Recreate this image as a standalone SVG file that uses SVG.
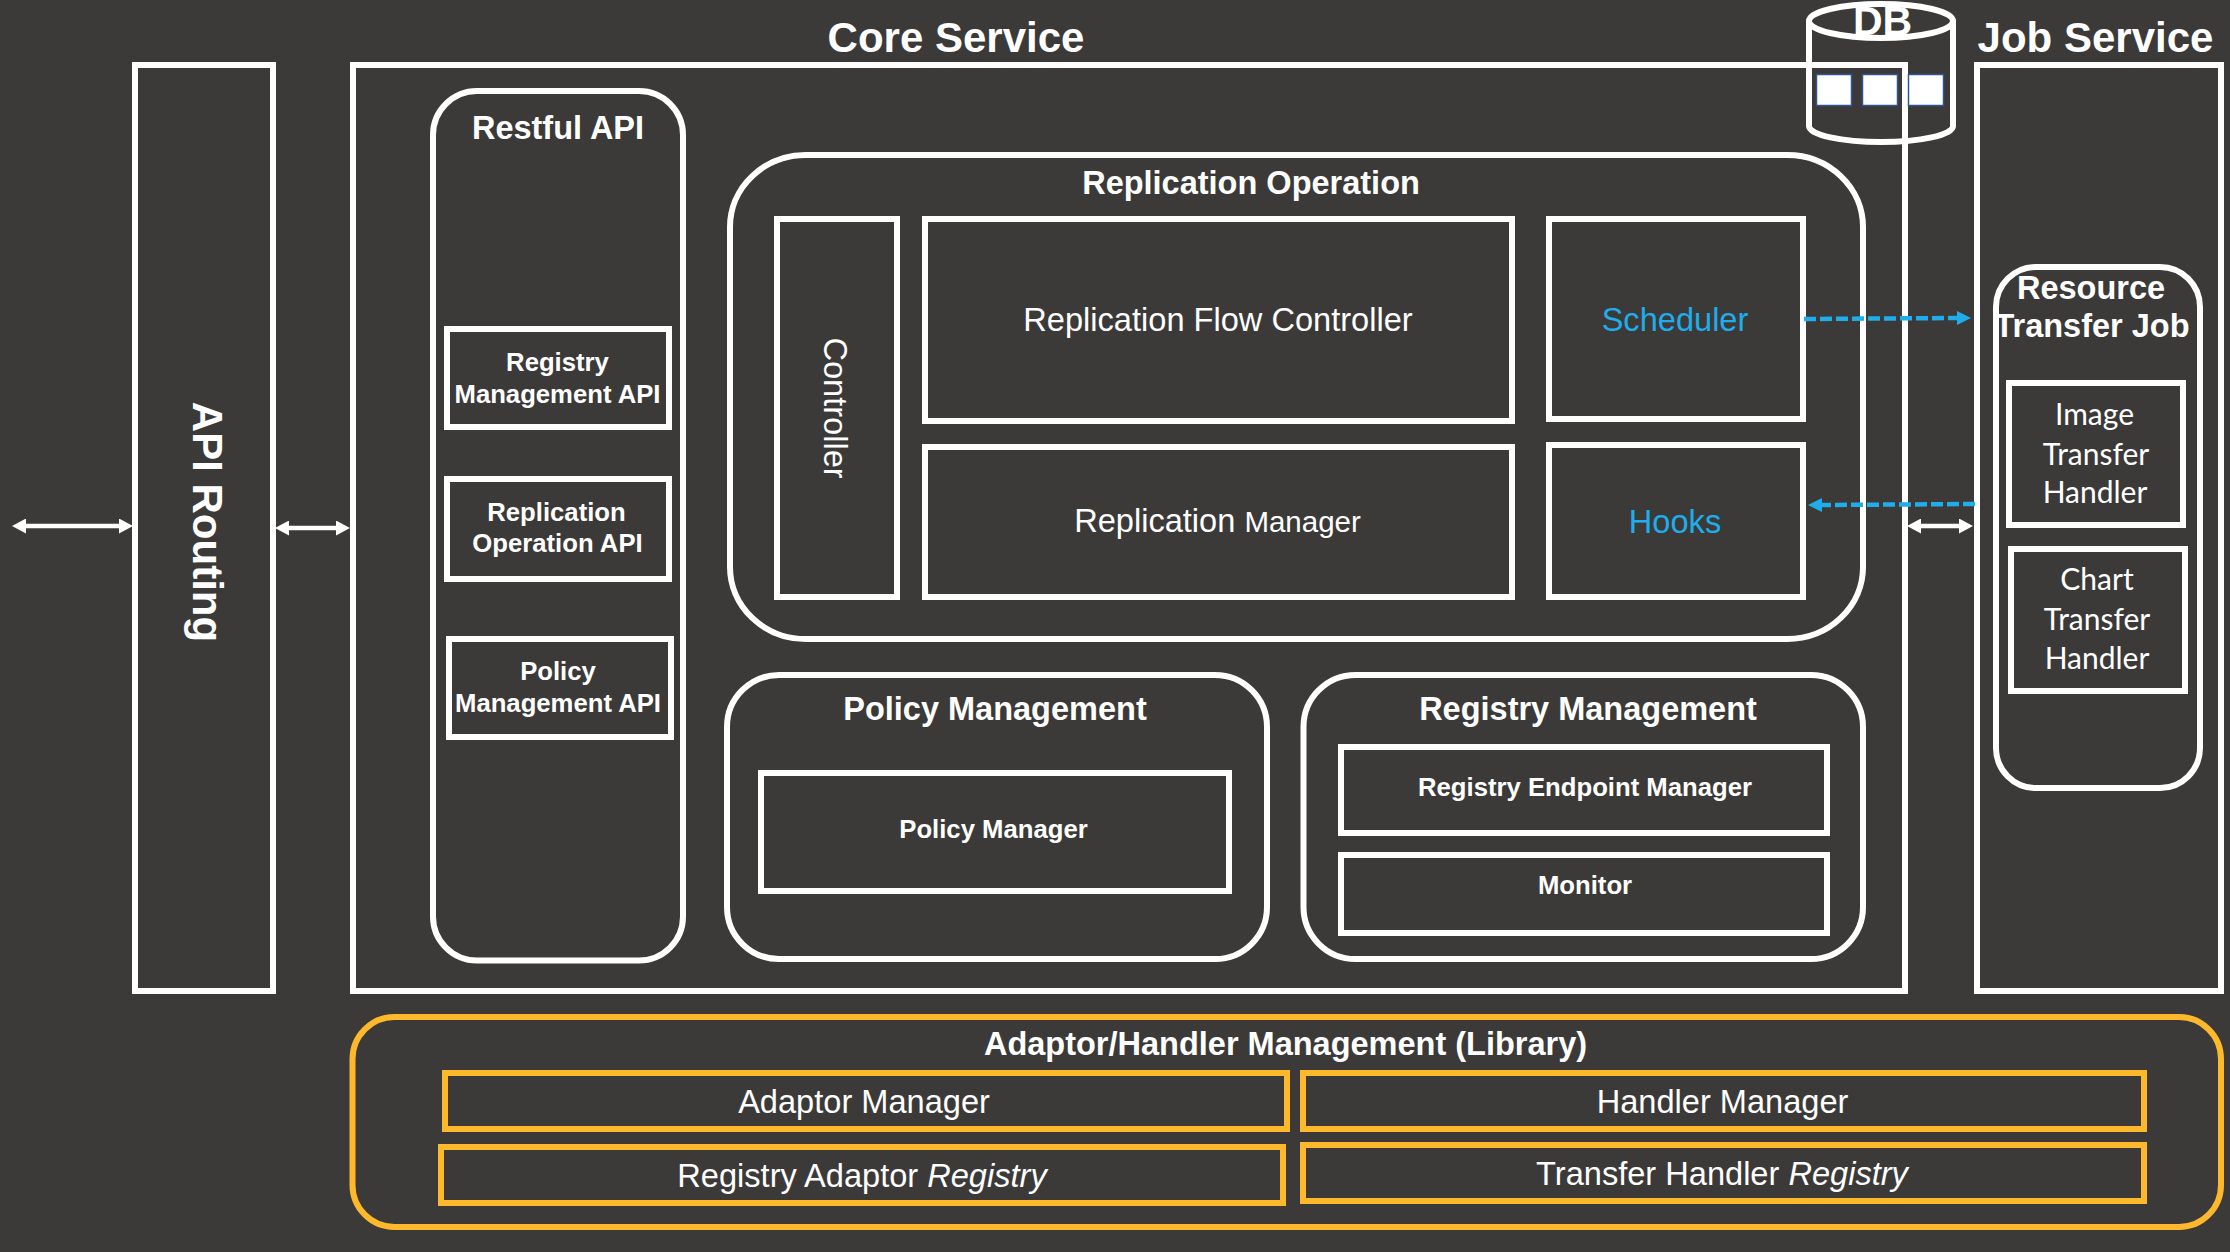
<svg xmlns="http://www.w3.org/2000/svg" width="2230" height="1252" viewBox="0 0 2230 1252">
<style>
.b{fill:none;stroke:#fff;stroke-width:6}
.g{fill:none;stroke:#fdb92b;stroke-width:6}
text{font-family:"Liberation Sans",Arial,sans-serif;fill:#fff;text-anchor:middle}
.t42{font-size:42px;font-weight:700}
.t32b{font-size:32.5px;font-weight:700}
.t26b{font-size:25.7px;font-weight:700}
.t32{font-size:32.6px}
.blue{fill:#1fadeb}
.cal{font-family:Lato,"Open Sans",sans-serif;font-size:30px}
.sq{fill:#fff;stroke:#2f5597;stroke-width:1.5}
.wa{stroke:#fff;stroke-width:4.5;fill:none;marker-start:url(#wh);marker-end:url(#wh)}
.ba{stroke:#1fadeb;stroke-width:4.5;stroke-dasharray:12 4;fill:none;marker-end:url(#bh)}
</style>
<defs>
<marker id="wh" markerUnits="userSpaceOnUse" markerWidth="14" markerHeight="15" refX="0" refY="7.5" orient="auto-start-reverse"><path d="M0 0L14 7.5L0 15Z" fill="#fff"/></marker>
<marker id="bh" markerUnits="userSpaceOnUse" markerWidth="14" markerHeight="14" refX="0" refY="7" orient="auto"><path d="M0 0L14 7L0 14Z" fill="#1fadeb"/></marker>
</defs>
<rect width="2230" height="1252" fill="#3b3a38"/>

<g id="api-routing">
<rect class="b" x="135" y="65" width="138" height="926"/>
<text class="t42" transform="translate(192.500 522) rotate(90)">API Routing</text>
</g>

<g id="core-service">
<rect class="b" x="353" y="65" width="1552" height="926"/>
<text class="t42" x="956" y="51.500">Core Service</text>
</g>

<g id="restful-api">
<rect class="b" x="433" y="91" width="250" height="869.500" rx="44" ry="44"/>
<text class="t32b" x="558" y="139">Restful API</text>
</g>
<g id="registry-management-api">
<rect class="b" x="447" y="329" width="222" height="98"/>
<text class="t26b" x="557.500" y="371">Registry</text>
<text class="t26b" x="557.500" y="402.500">Management API</text>
</g>
<g id="replication-operation-api">
<rect class="b" x="447" y="479" width="222" height="100"/>
<text class="t26b" x="556.500" y="520.500">Replication</text>
<text class="t26b" x="557.500" y="552">Operation API</text>
</g>
<g id="policy-management-api">
<rect class="b" x="449" y="639" width="222" height="98"/>
<text class="t26b" x="558" y="680">Policy</text>
<text class="t26b" x="558" y="711.500">Management API</text>
</g>

<g id="replication-operation">
<rect class="b" x="730" y="155" width="1133" height="484" rx="76" ry="72"/>
<text class="t32b" x="1251" y="194">Replication Operation</text>
</g>
<g id="controller">
<rect class="b" x="777" y="219" width="120" height="378"/>
<text class="t32" transform="translate(823.500 408) rotate(90)">Controller</text>
</g>
<g id="replication-flow-controller">
<rect class="b" x="925" y="219" width="587" height="202"/>
<text class="t32" x="1218" y="331">Replication Flow Controller</text>
</g>
<g id="replication-manager">
<rect class="b" x="925" y="447" width="587" height="150"/>
<text class="t32" x="1217.500" y="532">Replication <tspan font-size="29.500">Manager</tspan></text>
</g>
<g id="scheduler">
<rect class="b" x="1549" y="219" width="254" height="200"/>
<text class="t32 blue" x="1675" y="330.500">Scheduler</text>
</g>
<g id="hooks">
<rect class="b" x="1549" y="445" width="254" height="152"/>
<text class="t32 blue" x="1675" y="532.500">Hooks</text>
</g>

<g id="policy-management">
<rect class="b" x="727" y="675" width="540" height="284" rx="52" ry="52"/>
<text class="t32b" x="995" y="719.500">Policy Management</text>
</g>
<g id="policy-manager">
<rect class="b" x="761" y="773" width="468" height="118"/>
<text class="t26b" x="993.500" y="838">Policy Manager</text>
</g>
<g id="registry-management">
<rect class="b" x="1303.500" y="675" width="559.500" height="284" rx="52" ry="52"/>
<text class="t32b" x="1588" y="719.500">Registry Management</text>
</g>
<g id="registry-endpoint-manager">
<rect class="b" x="1341" y="747" width="486" height="86"/>
<text class="t26b" x="1585" y="796">Registry Endpoint Manager</text>
</g>
<g id="monitor">
<rect class="b" x="1341" y="855" width="486" height="78"/>
<text class="t26b" x="1585" y="894">Monitor</text>
</g>

<g id="job-service">
<rect class="b" x="1977" y="65" width="244" height="926"/>
<text class="t42" x="2095.500" y="52">Job Service</text>
</g>
<g id="resource-transfer-job">
<rect class="b" x="1996" y="267" width="204" height="521" rx="40" ry="40"/>
<text class="t32b" x="2091" y="298.500">Resource</text>
<text class="t32b" x="2092" y="336.500">Transfer Job</text>
</g>
<g id="image-transfer-handler">
<rect class="b" x="2009" y="383" width="174" height="142"/>
<text class="cal" x="2094.500" y="425">Image</text>
<text class="cal" x="2096" y="465">Transfer</text>
<text class="cal" x="2095" y="503">Handler</text>
</g>
<g id="chart-transfer-handler">
<rect class="b" x="2011" y="549" width="174" height="142"/>
<text class="cal" x="2097" y="590">Chart</text>
<text class="cal" x="2097" y="630">Transfer</text>
<text class="cal" x="2097" y="669">Handler</text>
</g>

<g id="db">
<ellipse class="b" cx="1881" cy="21" rx="72" ry="17"/>
<path class="b" d="M1809 21V126C1809 135 1842 142 1881 142S1953 135 1953 126V21"/>
<rect class="sq" x="1816.500" y="74.500" width="35" height="31"/>
<rect class="sq" x="1862.500" y="74.500" width="35" height="31"/>
<rect class="sq" x="1908.500" y="74.500" width="35" height="31"/>
<text x="1882.500" y="35" font-size="41" font-weight="700">DB</text>
</g>

<g id="adaptor-handler-management">
<rect class="g" x="352.500" y="1017" width="1868.500" height="210" rx="42" ry="42"/>
<text class="t32b" x="1285.500" y="1055">Adaptor/Handler Management (Library)</text>
</g>
<g id="adaptor-manager">
<rect class="g" x="445" y="1073" width="842" height="56"/>
<text class="t32" x="864" y="1113">Adaptor Manager</text>
</g>
<g id="registry-adaptor-registry">
<rect class="g" x="441" y="1147" width="842" height="56"/>
<text class="t32" x="862" y="1187">Registry Adaptor <tspan font-style="italic">Registry</tspan></text>
</g>
<g id="handler-manager">
<rect class="g" x="1303" y="1073" width="841" height="56"/>
<text class="t32" x="1722.500" y="1113">Handler Manager</text>
</g>
<g id="transfer-handler-registry">
<rect class="g" x="1303" y="1145" width="841" height="56"/>
<text class="t32" x="1722" y="1185">Transfer Handler <tspan font-style="italic">Registry</tspan></text>
</g>

<g id="connectors">
<line class="wa" x1="26" y1="526" x2="119" y2="526"/>
<line class="wa" x1="289" y1="528" x2="336" y2="528"/>
<line class="wa" x1="1921" y1="526" x2="1959" y2="526"/>
<line class="ba" x1="1804" y1="319" x2="1957" y2="318"/>
<line class="ba" x1="1975" y1="504" x2="1822" y2="505"/>
</g>
</svg>
